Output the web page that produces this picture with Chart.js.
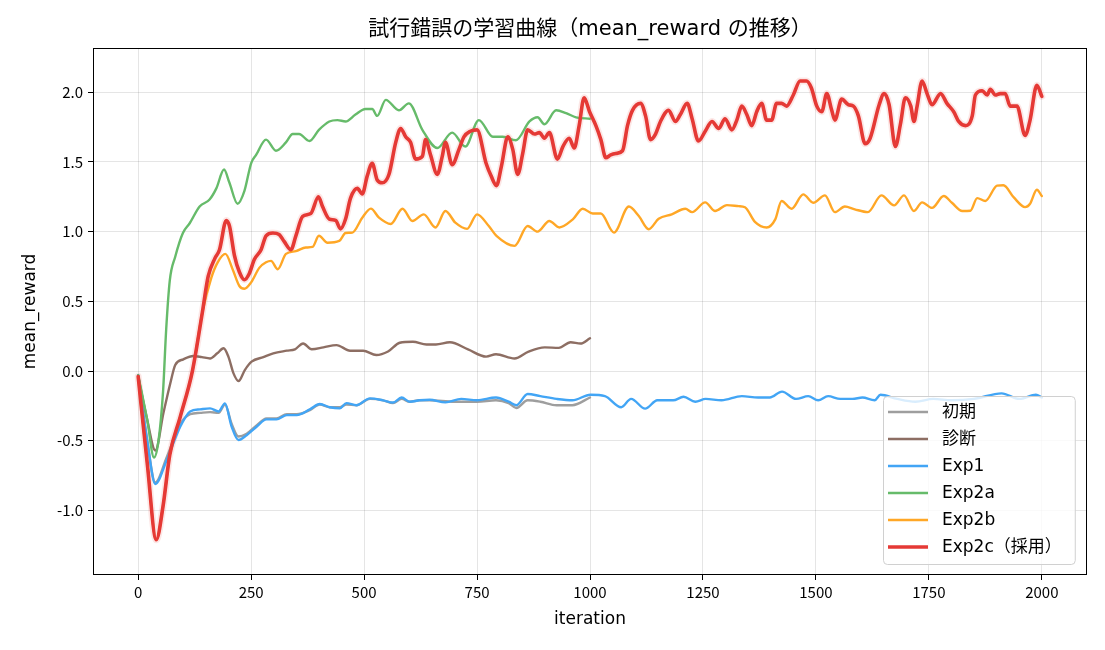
<!DOCTYPE html>
<html>
<head>
<meta charset="utf-8">
<script src="https://cdn.jsdelivr.net/npm/chart.js@4.4.0/dist/chart.umd.min.js"></script>
<style>
  html, body { margin: 0; padding: 0; background: #fff; }
</style>
</head>
<body>
<canvas id="myChart" width="1105" height="650"></canvas>
<script>
// 系列名
const seriesLabels = ['初期', '診断', 'Exp1', 'Exp2a', 'Exp2b', 'Exp2c（採用）'];
const chartTitle = '試行錯誤の学習曲線（mean_reward の推移）';

// 軸の目盛り
const xTicks = [0, 250, 500, 750, 1000, 1250, 1500, 1750, 2000];
const yTicks = [-1.0, -0.5, 0.0, 0.5, 1.0, 1.5, 2.0];

// 初期
const shokiIter = [0,20,38,63,93,115,137,159,178,192,207,222,240,262,284,306,329,351,380,402,424,446,461,483,513,542,564,583,601,623,645,700,750,792,820,837,862,890,926,961,1000];
const shokiReward = [-0.03,-0.5,-0.80,-0.62,-0.38,-0.31,-0.30,-0.295,-0.30,-0.24,-0.38,-0.47,-0.45,-0.39,-0.34,-0.34,-0.31,-0.31,-0.28,-0.24,-0.26,-0.26,-0.24,-0.245,-0.20,-0.21,-0.23,-0.20,-0.22,-0.21,-0.21,-0.22,-0.22,-0.21,-0.23,-0.265,-0.21,-0.22,-0.245,-0.245,-0.19];

// 診断
const shindanIter = [0,20,38,56,71,82,100,122,141,159,175,189,200,211,222,236,251,277,299,329,347,365,384,410,439,469,498,527,553,579,608,638,659,690,730,770,792,833,864,900,931,957,979,1000];
const shindanReward = [-0.04,-0.35,-0.57,-0.30,-0.09,0.043,0.084,0.108,0.10,0.09,0.127,0.163,0.10,-0.017,-0.072,0.007,0.067,0.10,0.127,0.146,0.156,0.198,0.156,0.17,0.186,0.146,0.146,0.115,0.14,0.203,0.21,0.19,0.19,0.206,0.155,0.103,0.12,0.09,0.14,0.17,0.166,0.206,0.197,0.235];

// Exp1
const exp1Iter = [0,20,38,63,93,115,137,159,178,192,207,222,240,262,284,306,329,351,380,402,424,446,461,483,513,542,564,583,601,623,645,680,715,750,792,820,837,862,890,926,961,1001,1033,1069,1091,1122,1149,1184,1207,1233,1256,1291,1336,1372,1398,1425,1456,1483,1505,1527,1554,1581,1603,1630,1643,1680,1720,1760,1800,1850,1911,1950,1987,2000];
const exp1Reward = [-0.03,-0.5,-0.81,-0.64,-0.40,-0.29,-0.275,-0.268,-0.29,-0.232,-0.40,-0.495,-0.46,-0.40,-0.347,-0.347,-0.316,-0.316,-0.275,-0.237,-0.26,-0.268,-0.23,-0.245,-0.196,-0.21,-0.226,-0.19,-0.22,-0.21,-0.206,-0.225,-0.2,-0.21,-0.19,-0.22,-0.245,-0.165,-0.18,-0.2,-0.21,-0.17,-0.18,-0.26,-0.2,-0.27,-0.21,-0.21,-0.185,-0.22,-0.2,-0.21,-0.18,-0.19,-0.19,-0.148,-0.2,-0.18,-0.21,-0.18,-0.2,-0.2,-0.19,-0.21,-0.17,-0.2,-0.22,-0.2,-0.21,-0.2,-0.16,-0.2,-0.17,-0.19];

// Exp2a
const exp2aIter = [0,20,35,45,55,62,70,82,99,114,136,158,173,190,202,220,235,250,261,283,305,327,342,356,379,400,423,441,459,481,503,518,529,548,577,599,629,662,695,724,754,785,807,836,866,884,899,925,947,969,1000];
const exp2aReward = [-0.03,-0.35,-0.62,-0.5,-0.15,0.3,0.65,0.82,0.99,1.06,1.18,1.23,1.31,1.445,1.35,1.20,1.29,1.49,1.55,1.66,1.58,1.64,1.70,1.70,1.65,1.73,1.79,1.80,1.79,1.84,1.88,1.88,1.83,1.945,1.87,1.92,1.73,1.60,1.71,1.61,1.80,1.68,1.68,1.655,1.79,1.82,1.77,1.87,1.85,1.82,1.81];

// Exp2b
const exp2bIter = [0,20,40,55,70,93,120,142,162,176,193,209,224,235,250,268,283,294,309,327,349,371,386,400,419,445,459,474,496,515,533,559,585,607,632,658,680,702,728,750,776,793,833,862,884,910,932,962,984,1006,1024,1053,1086,1108,1130,1152,1181,1211,1226,1255,1277,1303,1329,1343,1365,1391,1410,1424,1446,1472,1494,1520,1542,1564,1586,1615,1645,1673,1695,1717,1735,1757,1783,1801,1824,1842,1857,1875,1901,1915,1938,1963,1974,1989,2000];
const exp2bReward = [-0.04,-0.66,-1.21,-0.97,-0.6,-0.33,0.0,0.42,0.67,0.78,0.84,0.73,0.61,0.59,0.636,0.74,0.78,0.79,0.73,0.84,0.86,0.886,0.89,0.97,0.92,0.933,0.99,0.993,1.10,1.165,1.10,1.055,1.164,1.076,1.124,1.03,1.148,1.064,1.02,1.124,1.04,0.97,0.898,1.04,1.00,1.076,1.03,1.088,1.164,1.13,1.13,0.993,1.18,1.112,1.017,1.093,1.124,1.164,1.14,1.21,1.148,1.19,1.183,1.175,1.07,1.03,1.088,1.22,1.164,1.267,1.207,1.26,1.14,1.18,1.16,1.14,1.26,1.188,1.26,1.148,1.21,1.17,1.255,1.207,1.148,1.15,1.24,1.22,1.33,1.333,1.245,1.176,1.2,1.30,1.255];

// Exp2c（採用）
const exp2cIter = [0,20,40,55,70,93,120,142,155,170,180,195,202,213,224,235,246,257,272,283,298,312,323,338,349,364,382,399,408,423,437,448,459,470,485,496,507,518,529,540,555,570,581,592,603,614,629,636,647,662,673,680,695,710,721,735,750,770,781,793,804,818,829,840,851,862,877,888,899,910,928,940,954,965,976,987,999,1013,1024,1035,1046,1057,1072,1083,1094,1112,1123,1134,1145,1156,1174,1189,1200,1215,1226,1240,1255,1270,1285,1299,1314,1325,1336,1347,1358,1369,1380,1391,1402,1413,1424,1435,1450,1465,1479,1490,1502,1513,1524,1535,1542,1557,1572,1583,1594,1609,1620,1640,1651,1662,1676,1687,1698,1710,1717,1724,1735,1746,1757,1776,1790,1805,1816,1831,1846,1853,1868,1879,1886,1897,1908,1919,1930,1945,1963,1974,1989,2000];
const exp2cReward = [-0.04,-0.66,-1.21,-0.97,-0.6,-0.33,0.0,0.42,0.68,0.81,0.87,1.08,1.04,0.83,0.71,0.655,0.70,0.80,0.87,0.97,0.99,0.98,0.93,0.87,0.97,1.11,1.13,1.25,1.18,1.09,1.08,1.02,1.09,1.24,1.31,1.27,1.40,1.49,1.37,1.35,1.41,1.64,1.74,1.68,1.64,1.52,1.54,1.66,1.55,1.41,1.54,1.64,1.48,1.59,1.68,1.72,1.73,1.49,1.40,1.33,1.47,1.68,1.59,1.41,1.56,1.73,1.70,1.71,1.67,1.71,1.52,1.61,1.67,1.60,1.76,1.96,1.86,1.76,1.66,1.53,1.55,1.56,1.58,1.76,1.87,1.92,1.83,1.66,1.70,1.79,1.87,1.79,1.84,1.92,1.81,1.65,1.72,1.79,1.74,1.81,1.73,1.80,1.90,1.84,1.76,1.86,1.92,1.80,1.80,1.92,1.92,1.90,1.98,2.08,2.08,2.03,1.90,1.86,1.99,1.87,1.80,1.95,1.91,1.90,1.83,1.63,1.67,1.91,1.99,1.91,1.61,1.77,1.96,1.90,1.79,1.90,2.08,1.99,1.91,1.99,1.92,1.86,1.79,1.76,1.83,1.98,2.01,1.98,2.02,1.98,1.99,1.99,1.90,1.90,1.69,1.80,2.05,1.97];

const toPoints = (xs, ys) => xs.map((x, i) => ({x: x, y: ys[i]}));

const labelFont = "'DejaVu Sans', 'Noto Sans CJK JP', sans-serif";
Chart.defaults.font.family = "'Noto Sans CJK JP', 'Noto Sans', sans-serif";
Chart.defaults.color = '#000';

// 枠線（四辺）とタイトル
const chartAreaBorder = {
  id: 'chartAreaBorder',
  afterDraw(chart) {
    const {ctx, chartArea: {left, top, right, bottom}} = chart;
    ctx.save();
    ctx.strokeStyle = '#000';
    ctx.lineWidth = 1;
    ctx.strokeRect(Math.round(left) + 0.5, Math.round(top) + 0.5,
      Math.round(right - left) - 1, Math.round(bottom - top) - 1);
    ctx.font = '21px ' + labelFont;
    ctx.fillStyle = '#000';
    ctx.textAlign = 'center';
    ctx.textBaseline = 'middle';
    ctx.fillText(chartTitle, (left + right) / 2, top - 18);
    ctx.restore();
  }
};

// 右下の凡例
const legendBox = {
  id: 'legendBox',
  afterDraw(chart) {
    const {ctx, chartArea} = chart;
    const items = chart.data.datasets.filter(d => !d.hideInLegend);
    ctx.save();
    ctx.font = '17px ' + labelFont;
    const textW = Math.max(...items.map(d => ctx.measureText(d.label).width));
    const rowH = 27;
    const w = 5 + 40 + 14 + textW + 13;
    const h = (items.length - 1) * rowH + 33;
    const x0 = Math.round(chartArea.right - 12 - w);
    const y0 = Math.round(chartArea.bottom - 11 - h);
    ctx.beginPath();
    ctx.roundRect(x0 + 0.5, y0 + 0.5, w, h, 4);
    ctx.fillStyle = 'rgba(255,255,255,0.8)';
    ctx.fill();
    ctx.strokeStyle = '#d0d0d0';
    ctx.lineWidth = 1;
    ctx.stroke();
    items.forEach((d, i) => {
      const cy = y0 + 16 + i * rowH;
      ctx.beginPath();
      ctx.moveTo(x0 + 5, cy);
      ctx.lineTo(x0 + 45, cy);
      ctx.strokeStyle = d.borderColor;
      ctx.lineWidth = d.borderWidth;
      ctx.stroke();
      ctx.fillStyle = '#000';
      ctx.textBaseline = 'middle';
      ctx.fillText(d.label, x0 + 59, cy + 1);
    });
    ctx.restore();
  }
};

const lineSet = (label, xs, ys, color, width, order) => ({
  label: label,
  data: toPoints(xs, ys),
  borderColor: color,
  borderWidth: width,
  pointRadius: 0,
  cubicInterpolationMode: 'monotone',
  borderJoinStyle: 'round',
  borderCapStyle: 'round',
  order: order
});

const ctx = document.getElementById('myChart').getContext('2d');
const chart = new Chart(ctx, {
  type: 'line',
  data: {
    datasets: [
      lineSet(seriesLabels[0], shokiIter, shokiReward, '#9e9e9e', 2.4, 6),
      lineSet(seriesLabels[1], shindanIter, shindanReward, '#8d6e63', 2.4, 5),
      lineSet(seriesLabels[2], exp1Iter, exp1Reward, '#42a5f5', 2.4, 4),
      lineSet(seriesLabels[3], exp2aIter, exp2aReward, '#66bb6a', 2.4, 3),
      lineSet(seriesLabels[4], exp2bIter, exp2bReward, '#ffa726', 2.4, 2),
      lineSet(seriesLabels[5], exp2cIter, exp2cReward, '#e53935', 3.6, 1),
      Object.assign(lineSet('raw', exp2cIter, exp2cReward, 'rgba(229,57,53,0.12)', 7, 7), {hideInLegend: true})
    ]
  },
  options: {
    responsive: false,
    devicePixelRatio: 1,
    animation: false,
    layout: { padding: { left: 0, right: 18, top: 48, bottom: 0 } },
    plugins: {
      legend: { display: false },
      tooltip: { enabled: false },
      title: { display: false }
    },
    scales: {
      x: {
        type: 'linear',
        min: -100,
        max: 2100,
        afterBuildTicks: (axis) => { axis.ticks = xTicks.map(v => ({value: v})); },
        afterFit: (axis) => { axis.height = 75; },
        ticks: { font: { size: 15 }, padding: 3, maxRotation: 0, callback: (v) => String(v) },
        grid: { color: 'rgba(0,0,0,0.1)', tickColor: '#000', tickLength: 5 },
        border: { display: false },
        title: { display: true, text: 'iteration', font: { size: 17, family: labelFont }, padding: { top: 0, bottom: 20 } }
      },
      y: {
        type: 'linear',
        min: -1.463,
        max: 2.317,
        afterBuildTicks: (axis) => { axis.ticks = yTicks.map(v => ({value: v})); },
        afterFit: (axis) => { axis.width = 93; },
        ticks: { font: { size: 15 }, padding: 5, callback: (v) => v.toFixed(1) },
        grid: { color: 'rgba(0,0,0,0.1)', tickColor: '#000', tickLength: 5 },
        border: { display: false },
        title: { display: true, text: 'mean_reward', font: { size: 17, family: labelFont }, padding: { top: 20, bottom: 0 } }
      }
    }
  },
  plugins: [chartAreaBorder, legendBox]
});
</script>
</body>
</html>
